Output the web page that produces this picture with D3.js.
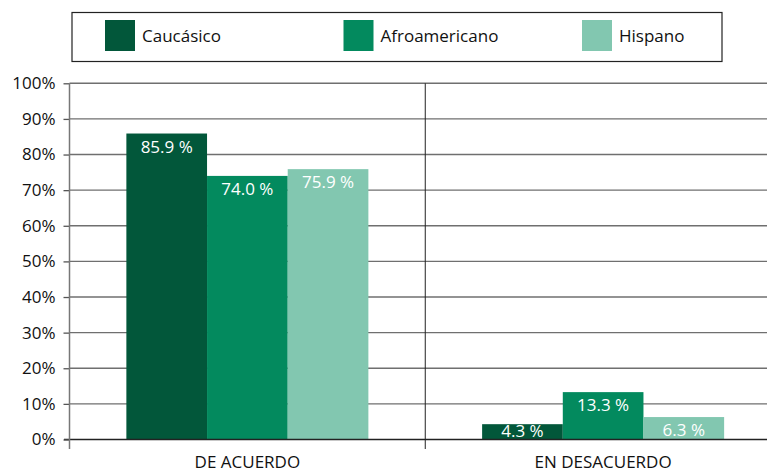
<!DOCTYPE html>
<html>
<head>
<meta charset="utf-8">
<script src="https://cdn.jsdelivr.net/npm/d3@7.9.0/dist/d3.min.js"></script>
<style>
  body { margin: 0; background: #fff; }
  svg { display: block; font-family: "Open Sans", "Noto Sans", sans-serif; }
</style>
</head>
<body>
<svg id="chart" width="767" height="472"></svg>
<script>
// data
const categories = ['DE ACUERDO', 'EN DESACUERDO'];
const series = ['Caucásico', 'Afroamericano', 'Hispano'];
const caucasico = [85.9, 4.3];
const afroamericano = [74.0, 13.3];
const hispano = [75.9, 6.3];
const yTicks = [0, 10, 20, 30, 40, 50, 60, 70, 80, 90, 100];
const colors = ['#02573a', '#038a5e', '#82c7b0'];

const values = [caucasico, afroamericano, hispano];
const rows = categories.map((cat, i) => ({
  cat,
  bars: series.map((s, j) => ({ series: s, value: values[j][i] })),
}));

const svg = d3.select('#chart');
const plot = { left: 69.5, right: 781, top: 83.3, bottom: 439.5 };

const x0 = d3.scaleBand().domain(categories).range([plot.left, plot.right]).padding(0);
const x1 = d3.scaleBand().domain(series).range([0, x0.bandwidth()]).paddingInner(0).paddingOuter(0.705);
const y = d3.scaleLinear().domain([0, 100]).range([plot.bottom, plot.top]);
const color = d3.scaleOrdinal().domain(series).range(colors);

// gridlines
svg.append('g')
  .selectAll('line')
  .data(yTicks.filter((d) => d > 0))
  .join('line')
  .attr('x1', plot.left)
  .attr('x2', 767)
  .attr('y1', (d) => y(d))
  .attr('y2', (d) => y(d))
  .attr('stroke', '#6f6f6f')
  .attr('stroke-width', 1.4);

// divider between the two groups
svg.append('line')
  .attr('x1', x0(categories[1]))
  .attr('x2', x0(categories[1]))
  .attr('y1', plot.top)
  .attr('y2', 449)
  .attr('stroke', '#222')
  .attr('stroke-width', 1);

// bars
const groups = svg.append('g')
  .selectAll('g')
  .data(rows)
  .join('g')
  .attr('transform', (d) => `translate(${x0(d.cat)},0)`);

groups.selectAll('rect')
  .data((d) => d.bars)
  .join('rect')
  .attr('x', (d) => x1(d.series))
  .attr('width', x1.bandwidth())
  .attr('y', (d) => y(d.value))
  .attr('height', (d) => y(0) - y(d.value))
  .attr('fill', (d) => color(d.series));

// baseline
svg.append('line')
  .attr('x1', 64)
  .attr('x2', 767)
  .attr('y1', y(0))
  .attr('y2', y(0))
  .attr('stroke', '#222')
  .attr('stroke-width', 1.3);

groups.selectAll('text')
  .data((d) => d.bars)
  .join('text')
  .attr('x', (d) => x1(d.series) + x1.bandwidth() / 2)
  .attr('y', (d) => Math.min(y(d.value) + 19, y(0) - 2.5))
  .attr('text-anchor', 'middle')
  .attr('fill', '#fff')
  .attr('font-size', 17)
  .text((d) => `${d.value.toFixed(1)} %`);

// y axis
const yAxis = svg.append('g')
  .attr('transform', `translate(${plot.left},0)`)
  .call(d3.axisLeft(y).tickValues(yTicks).tickSize(6).tickFormat((d) => `${d}%`));
yAxis.select('.domain').remove();
yAxis.append('line')
  .attr('y1', plot.top)
  .attr('y2', 449)
  .attr('stroke', '#777')
  .attr('stroke-width', 1.5);
yAxis.selectAll('.tick line').attr('stroke', '#555').attr('stroke-width', 1.3);
yAxis.selectAll('.tick text')
  .attr('x', -14)
  .attr('fill', '#111')
  .attr('font-size', 17)
  .attr('font-family', '"Open Sans", sans-serif');

// category labels
svg.append('g')
  .selectAll('text')
  .data(categories)
  .join('text')
  .attr('x', (d) => x0(d) + x0.bandwidth() / 2)
  .attr('y', 468)
  .attr('text-anchor', 'middle')
  .attr('fill', '#111')
  .attr('font-size', 17)
  .text((d) => d);

// legend
const legend = svg.append('g');
legend.append('rect')
  .attr('x', 72)
  .attr('y', 12.5)
  .attr('width', 650)
  .attr('height', 49)
  .attr('fill', '#fff')
  .attr('stroke', '#222')
  .attr('stroke-width', 1.2);

const legendX = d3.scalePoint().domain(series).range([105, 582]);
const items = legend.selectAll('g.item')
  .data(series)
  .join('g')
  .attr('class', 'item')
  .attr('transform', (d) => `translate(${legendX(d)},20)`);
items.append('rect')
  .attr('width', 30)
  .attr('height', 31)
  .attr('fill', (d) => color(d));
items.append('text')
  .attr('x', 37)
  .attr('y', 22)
  .attr('fill', '#111')
  .attr('font-size', 17)
  .text((d) => d);
</script>
</body>
</html>
